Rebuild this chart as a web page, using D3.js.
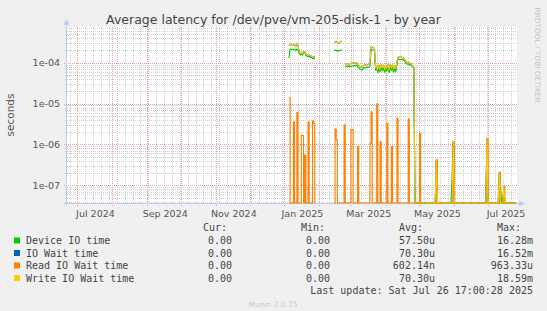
<!DOCTYPE html>
<html>
<head>
<meta charset="utf-8">
<script src="https://cdn.jsdelivr.net/npm/d3@7"></script>
<style>
  body { margin: 0; background: #f0f0f0; }
  svg { display: block; }
  text { font-family: "DejaVu Sans", sans-serif; }
  .mono { font-family: "DejaVu Sans Mono", monospace; }
</style>
</head>
<body>
<div id="viz"></div>
<script>
'use strict';

// ---- data ----
const title = 'Average latency for /dev/pve/vm-205-disk-1 - by year';
const yTicks = [1e-4, 1e-5, 1e-6, 1e-7];
const xLabels = ['2024-07-01', '2024-09-01', '2024-11-01', '2025-01-01', '2025-03-01', '2025-05-01', '2025-07-01'];

// [day, seconds]; null = no data (gap)
const deviceIoTime = [
  ['2025-01-05', 1.3e-4], ['2025-01-06', 2.15e-4], ['2025-01-07', 2.1e-4], ['2025-01-08', 2.15e-4],
  ['2025-01-09', 2.1e-4], ['2025-01-10', 2.15e-4], ['2025-01-11', 1.95e-4], ['2025-01-12', 2.15e-4],
  ['2025-01-13', 2.0e-4], ['2025-01-14', 1.7e-4], ['2025-01-15', 1.55e-4], ['2025-01-16', 1.6e-4],
  ['2025-01-17', 1.55e-4], ['2025-01-18', 1.75e-4], ['2025-01-19', 1.8e-4], ['2025-01-20', 1.5e-4],
  ['2025-01-21', 1.45e-4], ['2025-01-22', 1.4e-4], ['2025-01-23', 1.45e-4], ['2025-01-24', 1.35e-4],
  ['2025-01-25', 1.35e-4], ['2025-01-26', 1.28e-4], ['2025-01-27', 1.25e-4], ['2025-01-28', 1.3e-4],
  ['2025-01-29', null],
  ['2025-02-14', 2.0e-4], ['2025-02-15', 2.05e-4], ['2025-02-16', 1.95e-4], ['2025-02-17', 2.0e-4],
  ['2025-02-18', 1.9e-4], ['2025-02-19', 2.0e-4], ['2025-02-20', 2.05e-4], ['2025-02-21', 2.0e-4],
  ['2025-02-22', null],
  ['2025-02-24', 8.2e-5], ['2025-02-25', 8.0e-5], ['2025-02-26', 8.3e-5], ['2025-02-27', 8.0e-5],
  ['2025-02-28', 8.2e-5], ['2025-03-01', 8.1e-5], ['2025-03-02', 8.4e-5], ['2025-03-03', 8.2e-5],
  ['2025-03-04', 8.6e-5], ['2025-03-05', 8.3e-5], ['2025-03-06', 8.8e-5], ['2025-03-07', 8.0e-5],
  ['2025-03-08', 7.4e-5], ['2025-03-09', 6.8e-5], ['2025-03-10', 7.0e-5], ['2025-03-11', 6.6e-5],
  ['2025-03-12', 7.2e-5], ['2025-03-13', 7.6e-5], ['2025-03-14', 7.4e-5], ['2025-03-15', 7.8e-5],
  ['2025-03-16', 7.5e-5], ['2025-03-17', 7.9e-5], ['2025-03-18', 8.2e-5], ['2025-03-19', 2.0e-4],
  ['2025-03-20', 2.1e-4], ['2025-03-21', 2.05e-4], ['2025-03-22', 1.95e-4], ['2025-03-23', 6.5e-5],
  ['2025-03-24', 7.2e-5], ['2025-03-25', 5.6e-5], ['2025-03-26', 7.5e-5], ['2025-03-27', 6.0e-5],
  ['2025-03-28', 7.8e-5], ['2025-03-29', 6.4e-5], ['2025-03-30', 7.6e-5], ['2025-03-31', 5.8e-5],
  ['2025-04-01', 7.4e-5], ['2025-04-02', 6.2e-5], ['2025-04-03', 8.0e-5], ['2025-04-04', 5.6e-5],
  ['2025-04-05', 7.8e-5], ['2025-04-06', 6.4e-5], ['2025-04-07', 7.6e-5], ['2025-04-08', 5.8e-5],
  ['2025-04-09', 7.2e-5], ['2025-04-10', 6.0e-5], ['2025-04-11', 9.0e-5], ['2025-04-12', 1.2e-4],
  ['2025-04-13', 1.22e-4], ['2025-04-14', 1.18e-4], ['2025-04-15', 1.22e-4], ['2025-04-16', 1.15e-4],
  ['2025-04-17', 1.18e-4], ['2025-04-18', 1.08e-4], ['2025-04-19', 9.6e-5], ['2025-04-20', 9.2e-5],
  ['2025-04-21', 9.4e-5], ['2025-04-22', 8.8e-5], ['2025-04-23', 9.0e-5], ['2025-04-24', 8.4e-5],
  ['2025-04-25', 7.8e-5], ['2025-04-26', 7.4e-5], ['2025-04-27', 0],
  ['2025-05-15', 0], ['2025-05-16', 4.0e-7], ['2025-05-17', 0],
  ['2025-05-29', 0], ['2025-05-30', 1.6e-7], ['2025-05-31', 1.1e-6], ['2025-06-01', 0],
  ['2025-06-29', 0], ['2025-06-30', 1.3e-6], ['2025-07-01', 0],
  ['2025-07-10', 0], ['2025-07-11', 1.9e-7], ['2025-07-12', 1.0e-7], ['2025-07-13', 0],
  ['2025-07-14', 0], ['2025-07-15', 8.5e-8], ['2025-07-16', 0], ['2025-07-26', 0]
];

const writeIoWait = [
  ['2025-01-05', 2.6e-4], ['2025-01-06', 2.8e-4], ['2025-01-07', 2.75e-4], ['2025-01-08', 2.8e-4],
  ['2025-01-09', 2.7e-4], ['2025-01-10', 2.75e-4], ['2025-01-11', 2.45e-4], ['2025-01-12', 3.0e-4],
  ['2025-01-13', 2.7e-4], ['2025-01-14', 1.9e-4], ['2025-01-15', 1.75e-4], ['2025-01-16', 1.8e-4],
  ['2025-01-17', 1.7e-4], ['2025-01-18', 1.85e-4], ['2025-01-19', 1.85e-4], ['2025-01-20', 1.6e-4],
  ['2025-01-21', 1.55e-4], ['2025-01-22', 1.5e-4], ['2025-01-23', 1.55e-4], ['2025-01-24', 1.5e-4],
  ['2025-01-25', 1.45e-4], ['2025-01-26', 1.4e-4], ['2025-01-27', 1.38e-4], ['2025-01-28', 1.42e-4],
  ['2025-01-29', null],
  ['2025-02-14', 3.3e-4], ['2025-02-15', 3.2e-4], ['2025-02-16', 3.35e-4], ['2025-02-17', 3.1e-4],
  ['2025-02-18', 3.0e-4], ['2025-02-19', 3.05e-4], ['2025-02-20', 3.3e-4], ['2025-02-21', 3.4e-4],
  ['2025-02-22', null],
  ['2025-02-24', 9.2e-5], ['2025-02-25', 9.0e-5], ['2025-02-26', 9.3e-5], ['2025-02-27', 8.8e-5],
  ['2025-02-28', 9.1e-5], ['2025-03-01', 9.4e-5], ['2025-03-02', 9.8e-5], ['2025-03-03', 9.6e-5],
  ['2025-03-04', 1.0e-4], ['2025-03-05', 9.7e-5], ['2025-03-06', 1.02e-4], ['2025-03-07', 9.4e-5],
  ['2025-03-08', 8.6e-5], ['2025-03-09', 7.8e-5], ['2025-03-10', 8.0e-5], ['2025-03-11', 7.6e-5],
  ['2025-03-12', 8.3e-5], ['2025-03-13', 8.8e-5], ['2025-03-14', 8.6e-5], ['2025-03-15', 9.0e-5],
  ['2025-03-16', 8.7e-5], ['2025-03-17', 9.2e-5], ['2025-03-18', 9.5e-5], ['2025-03-19', 2.45e-4],
  ['2025-03-20', 2.4e-4], ['2025-03-21', 2.35e-4], ['2025-03-22', 2.25e-4], ['2025-03-23', 7.6e-5],
  ['2025-03-24', 8.5e-5], ['2025-03-25', 6.6e-5], ['2025-03-26', 8.8e-5], ['2025-03-27', 7.0e-5],
  ['2025-03-28', 9.0e-5], ['2025-03-29', 7.4e-5], ['2025-03-30', 8.8e-5], ['2025-03-31', 6.8e-5],
  ['2025-04-01', 8.6e-5], ['2025-04-02', 7.2e-5], ['2025-04-03', 9.2e-5], ['2025-04-04', 6.6e-5],
  ['2025-04-05', 9.0e-5], ['2025-04-06', 7.6e-5], ['2025-04-07', 8.8e-5], ['2025-04-08', 7.0e-5],
  ['2025-04-09', 8.4e-5], ['2025-04-10', 7.2e-5], ['2025-04-11', 1.05e-4], ['2025-04-12', 1.36e-4],
  ['2025-04-13', 1.38e-4], ['2025-04-14', 1.34e-4], ['2025-04-15', 1.4e-4], ['2025-04-16', 1.32e-4],
  ['2025-04-17', 1.3e-4], ['2025-04-18', 1.2e-4], ['2025-04-19', 1.05e-4], ['2025-04-20', 1.0e-4],
  ['2025-04-21', 1.03e-4], ['2025-04-22', 9.6e-5], ['2025-04-23', 9.8e-5], ['2025-04-24', 9.0e-5],
  ['2025-04-25', 8.2e-5], ['2025-04-26', 7.8e-5], ['2025-04-27', 0],
  ['2025-05-15', 0], ['2025-05-16', 4.2e-7], ['2025-05-17', 0],
  ['2025-05-30', 0], ['2025-05-31', 1.17e-6], ['2025-06-01', 0],
  ['2025-06-29', 0], ['2025-06-30', 1.35e-6], ['2025-07-01', 0],
  ['2025-07-10', 0], ['2025-07-11', 2.0e-7], ['2025-07-12', 0],
  ['2025-07-14', 0], ['2025-07-15', 9.0e-8], ['2025-07-16', 0], ['2025-07-26', 0]
];

// IO wait total sits exactly under the write line in the picture
const ioWaitTime = writeIoWait;

const readIoWait = [
  ['2025-01-05', 1.43e-5], ['2025-01-06', 0], ['2025-01-08', 0], ['2025-01-09', 3.6e-6],
  ['2025-01-10', 0], ['2025-01-11', 0], ['2025-01-12', 6.1e-6], ['2025-01-13', 0],
  ['2025-01-15', 0], ['2025-01-16', 1.7e-6], ['2025-01-17', 1.65e-6], ['2025-01-18', 0],
  ['2025-01-19', 5.5e-7], ['2025-01-20', 0], ['2025-01-21', 0], ['2025-01-22', 3.6e-6],
  ['2025-01-23', 0], ['2025-01-25', 0], ['2025-01-26', 3.8e-6], ['2025-01-27', 3.3e-6],
  ['2025-01-28', 0], ['2025-01-29', null],
  ['2025-02-14', 0], ['2025-02-15', 2.4e-6], ['2025-02-16', 1.3e-6], ['2025-02-17', 0],
  ['2025-02-22', 0], ['2025-02-23', 3.0e-6], ['2025-02-24', 0],
  ['2025-02-28', 0], ['2025-03-01', 2.3e-6], ['2025-03-02', 2.3e-6], ['2025-03-03', 0],
  ['2025-03-06', 0], ['2025-03-07', 8.9e-7], ['2025-03-08', 0],
  ['2025-03-17', 0], ['2025-03-18', 1.07e-6], ['2025-03-19', 6.3e-6], ['2025-03-20', 0],
  ['2025-03-23', 0], ['2025-03-24', 9.8e-6], ['2025-03-25', 0],
  ['2025-03-26', 0], ['2025-03-27', 1.17e-6], ['2025-03-28', 0],
  ['2025-04-01', 0], ['2025-04-02', 3.3e-6], ['2025-04-03', 0],
  ['2025-04-05', 0], ['2025-04-06', 8.9e-7], ['2025-04-07', 0],
  ['2025-04-10', 0], ['2025-04-11', 4.4e-6], ['2025-04-12', 0],
  ['2025-04-20', 0], ['2025-04-21', 4.2e-6], ['2025-04-22', 0],
  ['2025-04-30', 0], ['2025-05-01', 1.87e-6], ['2025-05-02', 0],
  ['2025-05-15', 0], ['2025-05-16', 4.2e-7], ['2025-05-17', 0],
  ['2025-05-30', 0], ['2025-05-31', 1.17e-6], ['2025-06-01', 0],
  ['2025-06-29', 0], ['2025-06-30', 1.4e-6], ['2025-07-01', 0],
  ['2025-07-10', 0], ['2025-07-11', 2.1e-7], ['2025-07-12', 0],
  ['2025-07-14', 0], ['2025-07-15', 9.3e-8], ['2025-07-16', 0], ['2025-07-26', 0]
];

const legendNames = ['Device IO time', 'IO Wait time', 'Read IO Wait time', 'Write IO Wait time'];
const legendColors = ['#00cc00', '#0066b3', '#ff8000', '#ffcc00'];
const legendCur = ['0.00', '0.00', '0.00', '0.00'];
const legendMin = ['0.00', '0.00', '0.00', '0.00'];
const legendAvg = ['57.50u', '70.30u', '602.14n', '70.30u'];
const legendMax = ['16.28m', '16.52m', '963.33u', '18.59m'];
const lastUpdate = 'Last update: Sat Jul 26 17:00:28 2025';

// ---- drawing ----
const W = 547, H = 311;
const plot = {left: 67, right: 517, top: 27, bottom: 203};
const parseDay = d3.timeParse('%Y-%m-%d');

const svg = d3.select('#viz').append('svg')
  .attr('width', W)
  .attr('height', H);

svg.append('rect').attr('width', W).attr('height', H).attr('fill', '#f0f0f0');
svg.append('rect')
  .attr('x', plot.left).attr('y', plot.top)
  .attr('width', plot.right - plot.left).attr('height', plot.bottom - plot.top)
  .attr('fill', '#ffffff');

const x = d3.scaleTime()
  .domain([new Date(2024, 5, 21, 17, 0, 28), new Date(2025, 6, 26, 17, 0, 28)])
  .range([plot.left, plot.right]);

const y = d3.scaleLog()
  .domain([3.69e-8, 7.46e-4])
  .range([plot.bottom, plot.top]);

const grid = svg.append('g').attr('shape-rendering', 'crispEdges');

// minor log grid
const minorY = [];
for (let k = -8; k <= -4; k++) {
  for (let m = 2; m <= 9; m++) {
    const v = m * Math.pow(10, k);
    if (v > y.domain()[0] && v < y.domain()[1]) minorY.push(v);
  }
}
grid.selectAll('.minor-y').data(minorY).enter().append('line')
  .attr('x1', plot.left - 2).attr('x2', plot.right)
  .attr('y1', d => Math.round(y(d)) + 0.5).attr('y2', d => Math.round(y(d)) + 0.5)
  .attr('stroke', '#cfcfcf').attr('stroke-dasharray', '1,1');

// weekly minor grid
const weeks = d3.timeMonday.range(x.domain()[0], x.domain()[1]);
grid.selectAll('.minor-x').data(weeks).enter().append('line')
  .attr('x1', d => Math.round(x(d)) + 0.5).attr('x2', d => Math.round(x(d)) + 0.5)
  .attr('y1', plot.top).attr('y2', plot.bottom + 2)
  .attr('stroke', '#cfcfcf').attr('stroke-dasharray', '1,1');

// major grid
grid.selectAll('.major-y').data(yTicks).enter().append('line')
  .attr('x1', plot.left - 3).attr('x2', plot.right)
  .attr('y1', d => Math.round(y(d)) + 0.5).attr('y2', d => Math.round(y(d)) + 0.5)
  .attr('stroke', '#e6a0a0').attr('stroke-dasharray', '1,1');

const months = d3.timeMonth.range(x.domain()[0], x.domain()[1]);
grid.selectAll('.major-x').data(months).enter().append('line')
  .attr('x1', d => Math.round(x(d)) + 0.5).attr('x2', d => Math.round(x(d)) + 0.5)
  .attr('y1', plot.top).attr('y2', plot.bottom + 3)
  .attr('stroke', '#e6a0a0').attr('stroke-dasharray', '1,1');

// axes
const axisColor = '#c3c8f3';
svg.append('line')
  .attr('x1', plot.left - 3).attr('x2', plot.right + 3)
  .attr('y1', plot.bottom + 0.5).attr('y2', plot.bottom + 0.5)
  .attr('stroke', axisColor);
svg.append('path')
  .attr('d', `M${plot.right + 2},${plot.bottom - 2.5}L${plot.right + 8},${plot.bottom + 0.5}L${plot.right + 2},${plot.bottom + 3.5}Z`)
  .attr('fill', axisColor);
svg.append('line')
  .attr('x1', plot.left - 0.5).attr('x2', plot.left - 0.5)
  .attr('y1', plot.bottom + 3).attr('y2', plot.top - 3)
  .attr('stroke', axisColor);
svg.append('path')
  .attr('d', `M${plot.left - 3.5},${plot.top - 2}L${plot.left - 0.5},${plot.top - 8}L${plot.left + 2.5},${plot.top - 2}Z`)
  .attr('fill', axisColor);

// tick labels
svg.selectAll('.ylab').data(yTicks).enter().append('text')
  .attr('x', plot.left - 7).attr('y', d => y(d) + 3.5)
  .attr('text-anchor', 'end')
  .attr('font-size', '9.5px').attr('fill', '#555')
  .text(d => d.toExponential(0).replace(/e([+-])(\d)$/, 'e$10$2'));

const labelFmt = d3.timeFormat('%b %Y');
svg.selectAll('.xlab').data(xLabels.map(parseDay)).enter().append('text')
  .attr('x', d => x(d3.timeDay.offset(d, 16)))
  .attr('y', 216.5)
  .attr('text-anchor', 'middle')
  .attr('font-size', '9.5px').attr('fill', '#555')
  .text(labelFmt);

svg.append('text')
  .attr('transform', 'translate(14,115) rotate(-90)')
  .attr('text-anchor', 'middle')
  .attr('font-size', '10.5px').attr('fill', '#555')
  .text('seconds');

svg.append('text')
  .attr('x', W / 2).attr('y', 23.5)
  .attr('text-anchor', 'middle')
  .attr('font-size', '12.5px').attr('fill', '#444')
  .text(title);

svg.append('text')
  .attr('transform', 'translate(537,55) rotate(90)')
  .attr('text-anchor', 'middle').attr('dominant-baseline', 'central')
  .attr('font-size', '7.4px').attr('fill', '#c4c4c4')
  .text('RRDTOOL / TOBI OETIKER');

// series
svg.append('clipPath').attr('id', 'clip')
  .append('rect')
  .attr('x', plot.left).attr('y', plot.top)
  .attr('width', plot.right - plot.left).attr('height', plot.bottom - plot.top + 1);

const yOf = d => d[1] > y.domain()[0] ? y(d[1]) : plot.bottom;

// rrdtool draws the sparse read spikes as one-sample steps
const smoothLine = d3.line()
  .defined(d => d[1] !== null)
  .x(d => x(parseDay(d[0])))
  .y(yOf);
const stepLine = d3.line()
  .defined(d => d[1] !== null)
  .curve(d3.curveStepAfter)
  .x(d => x(parseDay(d[0])))
  .y(yOf);

const seriesList = [deviceIoTime, ioWaitTime, readIoWait, writeIoWait];
const series = svg.append('g').attr('clip-path', 'url(#clip)');
seriesList.forEach((s, i) => {
  series.append('path')
    .datum(s)
    .attr('fill', 'none')
    .attr('stroke', legendColors[i])
    .attr('stroke-width', 1.1)
    .attr('stroke-linejoin', 'round')
    .attr('d', s === readIoWait ? stepLine : smoothLine);
});

// legend
const legend = svg.append('g').attr('class', 'mono').attr('font-size', '10px').attr('fill', '#444');
const header = [['Cur:', 203], ['Min:', 301], ['Avg:', 399], ['Max:', 497]];
header.forEach(([t, hx]) => {
  legend.append('text').attr('class', 'mono').attr('x', hx).attr('y', 231).text(t);
});

const rowY = [244, 256.5, 269, 281.5];
legendNames.forEach((name, i) => {
  legend.append('rect')
    .attr('x', 14).attr('y', rowY[i] - 6.5)
    .attr('width', 6).attr('height', 6)
    .attr('fill', legendColors[i]);
  legend.append('text').attr('class', 'mono').attr('x', 26).attr('y', rowY[i]).text(name);
  const cols = [[legendCur[i], 232], [legendMin[i], 330], [legendAvg[i], 435], [legendMax[i], 533]];
  cols.forEach(([t, cx]) => {
    legend.append('text').attr('class', 'mono')
      .attr('x', cx).attr('y', rowY[i])
      .attr('text-anchor', 'end').text(t);
  });
});

legend.append('text').attr('class', 'mono')
  .attr('x', 533).attr('y', 294)
  .attr('text-anchor', 'end').text(lastUpdate);

svg.append('text')
  .attr('x', 273).attr('y', 306.5)
  .attr('text-anchor', 'middle')
  .attr('font-size', '7.5px').attr('fill', '#c8c8c8')
  .text('Munin 2.0.75');
</script>
</body>
</html>
